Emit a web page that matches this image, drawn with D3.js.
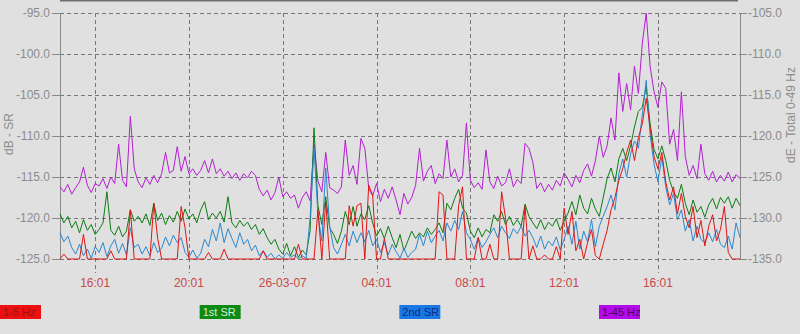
<!DOCTYPE html>
<html>
<head>
<meta charset="utf-8">
<script src="https://cdn.jsdelivr.net/npm/d3@7"></script>
<style>
  body { margin: 0; background: #e0e0e0; }
  svg { display: block; font-family: "Liberation Sans", Arial, sans-serif; }
</style>
</head>
<body>
<script>
// Time base: one reading every 10 minutes, starting 25-03-07 14:31
const startTime = new Date(2007, 2, 25, 14, 31);
const stepMinutes = 10;

const tickTimes = [
  new Date(2007, 2, 25, 16, 1), new Date(2007, 2, 25, 20, 1),
  new Date(2007, 2, 26, 0, 1), new Date(2007, 2, 26, 4, 1),
  new Date(2007, 2, 26, 8, 1), new Date(2007, 2, 26, 12, 1),
  new Date(2007, 2, 26, 16, 1)
];
const leftTicks = [-95, -100, -105, -110, -115, -120, -125];
const rightTicks = [-105, -110, -115, -120, -125, -130, -135];

const legendNames = ["1-5 Hz", "1st SR", "2nd SR", "1-45 Hz"];

// dB - SR (left axis)
const hz15 = [
  -125, -124.4, -125, -125, -125, -125, -122.0, -125, -125, -125,
  -125, -125, -125, -124.0, -125, -125, -125, -125, -119.0, -125,
  -125, -125, -125, -125, -118.2, -122.5, -125, -125, -125, -125,
  -125, -118.6, -121.2, -125, -125, -125, -125, -125, -124.2, -125,
  -125, -125, -123.8, -125, -125, -125, -125, -125, -125, -125,
  -125, -125, -124.0, -125, -125, -125, -125, -125, -125, -125,
  -125, -123.2, -125, -125, -125, -125, -119.0, -125, -118.0, -125,
  -125, -125, -125, -125, -118.5, -121.0, -118.5, -118.2, -125, -116.0,
  -117.2, -125, -125, -122.5, -125, -125, -125, -125, -125, -125,
  -125, -125, -125, -125, -125, -125, -125, -116.8, -117.2, -125,
  -125, -125, -118.5, -116.2, -125, -125, -125, -122.4, -125, -125,
  -123.2, -125, -125, -116.8, -120.0, -125, -125, -125, -125, -118.5,
  -125, -123.4, -125, -125, -124.5, -125, -125, -123.5, -125, -118.8,
  -122.0, -119.2, -124.0, -122.6, -125, -123.0, -121.4, -124.6, -125, -123.2,
  -121.5, -119.0, -117.5, -115.4, -114.0, -112.0, -110.5, -113.0, -110.2, -108.5,
  -105.4, -109.0, -112.5, -114.0, -112.0, -115.6, -117.8, -116.2, -119.5, -117.0,
  -119.8, -121.2, -118.6, -122.4, -120.3, -123.4, -121.0, -119.6, -122.8, -121.4,
  -118.6, -124.2, -125, -125, -125
];

const sr1 = [
  -119.5, -120.6, -119.8, -121.2, -120.4, -121.8, -120.2, -121.5, -120.8, -122.0,
  -121.4, -120.6, -116.8, -121.5, -122.1, -121.0, -122.3, -121.6, -119.0, -120.4,
  -119.8, -120.6, -119.5, -120.9, -118.2, -120.3, -119.4, -120.8, -119.7, -120.5,
  -119.2, -120.4, -118.9, -120.1, -119.5, -120.6, -119.0, -118.0, -120.2, -119.4,
  -120.0, -119.2, -120.5, -117.4, -120.6, -121.2, -120.3, -121.0, -120.5, -121.4,
  -120.8, -122.0, -121.3, -122.4, -123.2, -122.6, -123.8, -124.4, -123.1, -124.6,
  -123.5, -124.8, -123.9, -124.5, -121.5, -109.0, -118.5, -120.8, -117.4, -121.2,
  -122.0, -123.1, -121.6, -119.2, -120.8, -118.6, -121.0, -119.5, -120.2, -118.5,
  -120.6, -122.2, -121.3, -122.5, -121.0, -122.4, -123.6, -122.0, -124.0, -122.8,
  -121.6, -122.5, -121.8, -122.3, -121.2, -122.0, -121.4, -120.6, -121.8, -118.2,
  -119.0, -117.6, -116.5, -118.8, -119.4, -121.6, -122.4, -121.2, -122.3, -121.4,
  -121.8, -119.6, -120.4, -119.2, -120.8, -119.8, -120.9, -120.2, -121.0, -118.3,
  -119.8, -120.6, -121.3, -120.2, -121.4, -120.5, -121.0, -120.1, -121.5, -120.4,
  -119.4, -118.0, -119.6, -117.2, -118.8, -119.5, -117.6, -118.9, -119.8, -117.5,
  -115.2, -113.9, -115.6, -112.8, -111.5, -113.0, -111.2, -108.9, -107.0, -106.5,
  -104.0, -108.5, -111.6, -112.8, -111.2, -113.0, -115.4, -116.8, -117.6, -115.9,
  -118.2, -119.6, -117.8, -119.3, -118.6, -119.9, -118.4, -117.6, -118.9, -117.5,
  -118.2, -117.4, -118.8, -117.6, -118.5
];

const sr2 = [
  -121.8, -122.9, -122.2, -123.6, -124.4, -123.2, -124.6, -123.8, -124.9, -123.5,
  -124.2, -123.0, -124.7, -123.4, -122.6, -124.3, -123.1, -124.5, -121.2, -123.6,
  -123.2, -124.4, -123.5, -124.6, -123.0, -124.2, -123.7, -122.3, -123.4, -122.1,
  -123.0, -122.4, -124.2, -124.8, -123.9, -124.9, -124.3, -122.6, -123.5, -121.4,
  -122.8, -120.6, -123.0, -121.3, -122.5, -123.6, -121.8, -123.2, -122.6, -124.0,
  -123.3, -124.6, -124.0, -124.8, -124.3, -125.0, -124.5, -124.9, -124.2, -124.8,
  -124.5, -125.0, -124.6, -124.9, -120.0, -111.5, -119.6, -122.8, -113.9, -121.0,
  -123.6, -124.4, -123.2, -122.0, -123.4, -121.6, -123.0, -121.8, -122.9, -121.5,
  -123.4, -122.6, -124.2, -123.0, -124.5, -123.2, -124.1, -124.9, -123.7, -124.8,
  -124.2, -123.8, -122.0, -123.4, -121.6, -123.0, -122.2, -121.5, -122.8, -120.6,
  -121.6, -120.3, -121.4, -119.2, -121.8, -122.6, -123.8, -122.4, -123.6, -122.9,
  -122.0, -121.2, -122.4, -121.0, -121.8, -122.5, -121.3, -121.9, -121.0, -122.2,
  -121.5, -122.4, -123.6, -122.2, -123.8, -122.8, -123.4, -122.3, -123.9, -122.6,
  -121.0, -123.2, -120.4, -123.8, -121.6, -122.9, -120.2, -123.5, -121.0, -119.8,
  -118.6, -117.2, -119.0, -114.6, -112.8, -115.0, -112.2, -110.6, -111.5, -107.4,
  -103.2, -109.8, -113.4, -115.6, -112.6, -116.2, -118.4, -117.0, -120.2, -119.0,
  -121.6, -120.2, -122.8, -121.0, -122.6, -123.0, -121.8, -122.9, -121.4, -123.2,
  -123.6, -122.2, -123.8, -120.6, -122.4
];

// dE - Total 0-49 Hz (right axis)
const total = [
  -126.2, -126.8, -125.9, -127.1, -126.3, -125.6, -123.8, -126.0, -126.9, -125.8,
  -126.1, -125.2, -126.4, -125.0, -125.8, -121.0, -125.4, -126.2, -117.6, -124.0,
  -125.6, -126.3, -125.1, -125.9, -124.8, -125.7, -124.6, -122.0, -124.5, -124.2,
  -121.3, -124.3, -122.5, -124.6, -124.0, -124.8, -124.2, -123.0, -124.5, -122.8,
  -124.6, -124.0, -124.9, -124.3, -125.2, -124.5, -125.4, -124.6, -125.1, -124.3,
  -124.8, -126.5, -127.3, -126.6, -127.8, -126.9, -125.0, -127.4, -126.8, -127.6,
  -127.2, -128.8, -127.5, -126.8, -127.9, -121.0, -125.5, -126.8, -122.0, -126.3,
  -126.6, -127.0, -126.2, -120.5, -124.8, -123.6, -125.9, -120.3, -121.5, -126.4,
  -127.3, -125.8, -128.0, -126.5, -127.6, -126.2, -127.8, -129.6, -127.0, -128.3,
  -127.5, -126.0, -121.5, -125.5, -124.3, -123.6, -125.8, -124.6, -125.2, -120.5,
  -125.0, -124.0, -125.6, -124.8, -118.4, -125.4, -126.3, -125.7, -126.5, -121.7,
  -125.6, -126.4, -124.9, -126.1, -125.7, -124.0, -126.2, -125.3, -125.8, -120.9,
  -121.5, -123.2, -126.4, -125.7, -126.8, -125.9, -126.6, -125.4, -126.1, -124.5,
  -125.3, -126.2, -124.8, -125.7, -124.2, -123.4, -124.9, -123.0, -120.0, -122.6,
  -121.2, -117.8, -120.5, -112.3, -117.0, -113.6, -116.8, -111.5, -114.8, -108.7,
  -105.0, -111.5, -114.6, -116.5, -113.4, -114.2, -121.0, -119.2, -123.0, -114.6,
  -122.5, -124.8, -123.6, -125.2, -121.0, -124.6, -125.4, -124.3, -125.6, -124.8,
  -125.5, -124.4, -125.6, -124.7, -125.2
];

const W = 800, H = 334;
const plot = { left: 60, right: 740, top: 13, bottom: 259 };

const svg = d3.select("body").append("svg")
    .attr("width", W)
    .attr("height", H);

svg.append("rect").attr("width", W).attr("height", H).attr("fill", "#e0e0e0");

const x = d3.scaleTime()
    .domain([startTime, d3.timeMinute.offset(startTime, stepMinutes * (hz15.length - 1))])
    .range([plot.left, plot.right]);
const yLeft = d3.scaleLinear().domain([-125, -95]).range([plot.bottom, plot.top]);
const yRight = d3.scaleLinear().domain([-135, -105]).range([plot.bottom, plot.top]);

const timeAt = i => d3.timeMinute.offset(startTime, i * stepMinutes);

// top border line
svg.append("line")
    .attr("x1", plot.left).attr("x2", plot.right - 2)
    .attr("y1", 0.5).attr("y2", 0.5)
    .attr("stroke", "#6e6e6e").attr("stroke-width", 2);

// horizontal grid
svg.append("g").selectAll("line")
    .data(leftTicks)
    .enter().append("line")
    .attr("x1", plot.left).attr("x2", plot.right)
    .attr("y1", d => Math.round(yLeft(d)) + 0.5)
    .attr("y2", d => Math.round(yLeft(d)) + 0.5)
    .attr("stroke", "#777").attr("stroke-dasharray", "4,3");

// vertical grid, running down past the axis as the tick
svg.append("g").selectAll("line")
    .data(tickTimes)
    .enter().append("line")
    .attr("x1", d => Math.round(x(d)) + 0.5).attr("x2", d => Math.round(x(d)) + 0.5)
    .attr("y1", plot.top).attr("y2", 273)
    .attr("stroke", "#777").attr("stroke-dasharray", "4,3");

// x tick labels
const fmtTick = d => d.getHours() === 0 ? d3.timeFormat("%d-%m-%y")(d) : d3.timeFormat("%H:%M")(d);
svg.append("g").selectAll("text")
    .data(tickTimes)
    .enter().append("text")
    .attr("x", d => x(d))
    .attr("y", 287)
    .attr("text-anchor", "middle")
    .attr("font-size", 12)
    .attr("fill", "#c84848")
    .text(fmtTick);

// left axis
const axL = svg.append("g").attr("transform", `translate(${plot.left},0)`)
    .call(d3.axisLeft(yLeft).tickValues(leftTicks).tickSize(8).tickPadding(2).tickFormat(d3.format(".1f")));
axL.select(".domain").attr("stroke", "#8a8a8a").attr("d", `M0.5,${plot.top}V${plot.bottom}`);
axL.selectAll(".tick line").attr("stroke", "#8a8a8a");
axL.selectAll(".tick text").attr("fill", "#8c8c8c").attr("font-size", 12)
    .attr("font-family", "Liberation Sans, Arial, sans-serif").text(d => d3.format(".1f")(d).replace("−", "-"));

// right axis
const axR = svg.append("g").attr("transform", `translate(${plot.right},0)`)
    .call(d3.axisRight(yRight).tickValues(rightTicks).tickSize(7).tickPadding(1));
axR.select(".domain").attr("stroke", "#8a8a8a").attr("d", `M0.5,${plot.top}V${plot.bottom}`);
axR.selectAll(".tick line").attr("stroke", "#8a8a8a");
axR.selectAll(".tick text").attr("fill", "#8c8c8c").attr("font-size", 12)
    .attr("font-family", "Liberation Sans, Arial, sans-serif").text(d => d3.format(".1f")(d).replace("−", "-"));

// axis titles
svg.append("text")
    .attr("transform", "translate(13,134) rotate(-90)")
    .attr("text-anchor", "middle")
    .attr("font-size", 12).attr("fill", "#8c8c8c")
    .text("dB - SR");
svg.append("text")
    .attr("transform", "translate(795,115) rotate(-90)")
    .attr("text-anchor", "middle")
    .attr("font-size", 12).attr("fill", "#8c8c8c")
    .text("dE - Total 0-49 Hz");

// series
const lineL = d3.line().x((d, i) => x(timeAt(i))).y(d => yLeft(d));
const lineR = d3.line().x((d, i) => x(timeAt(i))).y(d => yRight(d));

const series = [
  { values: total, line: lineR, color: "#b41ed2" },
  { values: sr1, line: lineL, color: "#0b7d12" },
  { values: sr2, line: lineL, color: "#2a88d0" },
  { values: hz15, line: lineL, color: "#e01414" }
];

series.forEach(s => {
  svg.append("path")
      .datum(s.values)
      .attr("fill", "none")
      .attr("stroke", s.color)
      .attr("stroke-width", 1)
      .attr("d", s.line);
});

// legend boxes along the bottom
const legendColors = ["#ec1010", "#0b8a14", "#1a78e6", "#b20ae8"];
const legendText = ["#9a1010", "#d8ecd8", "#0c2a7a", "#4a0a60"];
const legendX = d3.scalePoint().domain(legendNames).range([0, 599]);

const lg = svg.append("g").selectAll("g")
    .data(legendNames)
    .enter().append("g")
    .attr("transform", d => `translate(${legendX(d)},305)`);
lg.append("rect")
    .attr("width", 41).attr("height", 14)
    .attr("fill", (d, i) => legendColors[i]);
lg.append("text")
    .attr("x", 3).attr("y", 11)
    .attr("font-size", 11)
    .attr("fill", (d, i) => legendText[i])
    .text(d => d);
</script>
</body>
</html>
